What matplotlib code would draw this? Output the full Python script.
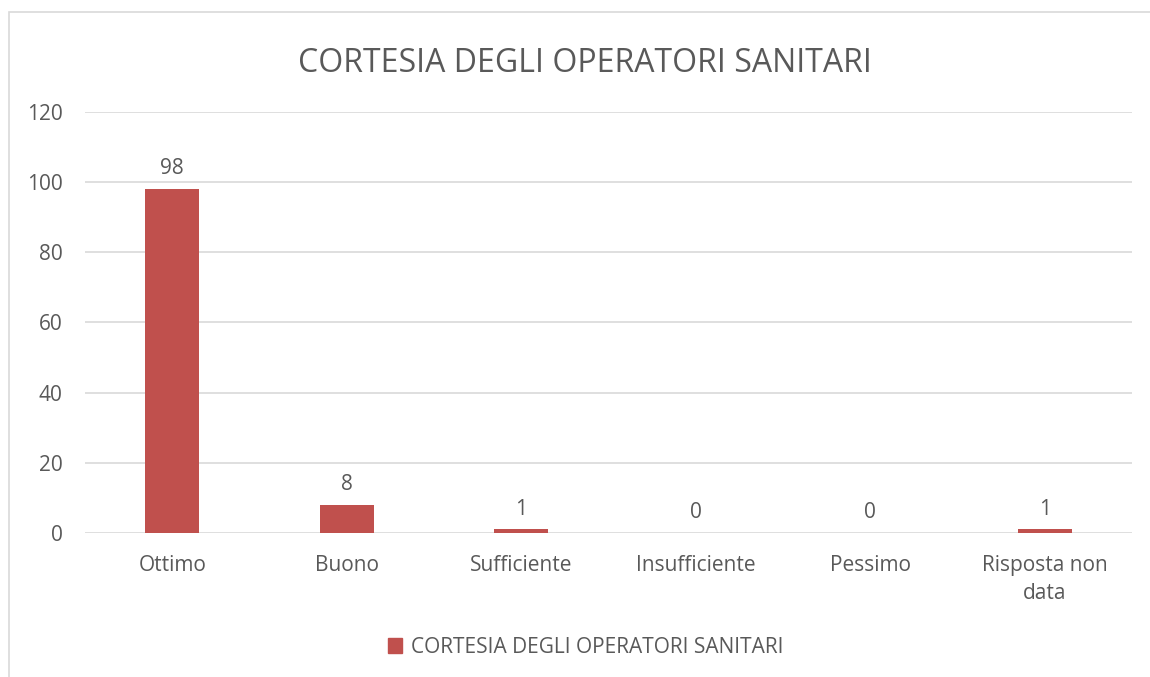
import matplotlib.pyplot as plt
import matplotlib.patches as mpatches

# data
categories = ["Ottimo", "Buono", "Sufficiente", "Insufficiente", "Pessimo", "Risposta non\ndata"]
values = [98, 8, 1, 0, 0, 1]
series_name = "CORTESIA DEGLI OPERATORI SANITARI"
title = "CORTESIA DEGLI OPERATORI SANITARI"
yticks = [0, 20, 40, 60, 80, 100, 120]

bar_color = "#C0504D"
text_color = "#595959"
grid_color = "#D9D9D9"

plt.rcParams["font.family"] = ["Open Sans", "DejaVu Sans"]

fig = plt.figure(figsize=(11.5, 6.77), dpi=100)
ax = fig.add_axes([0.0739, 0.2127, 0.9104, 0.6219])

# chart border (only left/top visible in reference)
fig.add_artist(mpatches.Rectangle((9 / 1150, -0.1), 1.2, 1 - 12 / 677 + 0.1,
                                  transform=fig.transFigure, fill=False,
                                  edgecolor="#D9D9D9", linewidth=1.2))

x = range(len(categories))
ax.bar(x, values, width=0.31, color=bar_color, label=series_name, zorder=2)

for xi, v in zip(x, values):
    ax.annotate(str(v), (xi, v), xytext=(0, 7), textcoords="offset points",
                ha="center", va="bottom", fontsize=15, color=text_color)

ax.set_xlim(-0.5, len(categories) - 0.5)
ax.set_ylim(0, 120)
ax.set_yticks(yticks)
ax.set_xticks(list(x))
ax.set_xticklabels(categories, fontsize=15, color=text_color, linespacing=1.45)
ax.tick_params(axis="y", labelsize=15, labelcolor=text_color, length=0, pad=16)
ax.tick_params(axis="x", length=0, pad=16)
ax.grid(axis="y", color=grid_color, linewidth=1.2, zorder=0)
ax.set_axisbelow(True)
for s in ax.spines.values():
    s.set_visible(False)

fig.text(0.509, 0.906, title, ha="center", va="center", fontsize=23, color=text_color)

fig.legend(handles=[mpatches.Patch(color=bar_color, label=series_name)],
           loc="center", bbox_to_anchor=(0.509, 0.044), frameon=False,
           fontsize=15, labelcolor=text_color, handlelength=0.7, handleheight=0.7,
           handletextpad=0.4)

fig.savefig("out.png", dpi=100)
